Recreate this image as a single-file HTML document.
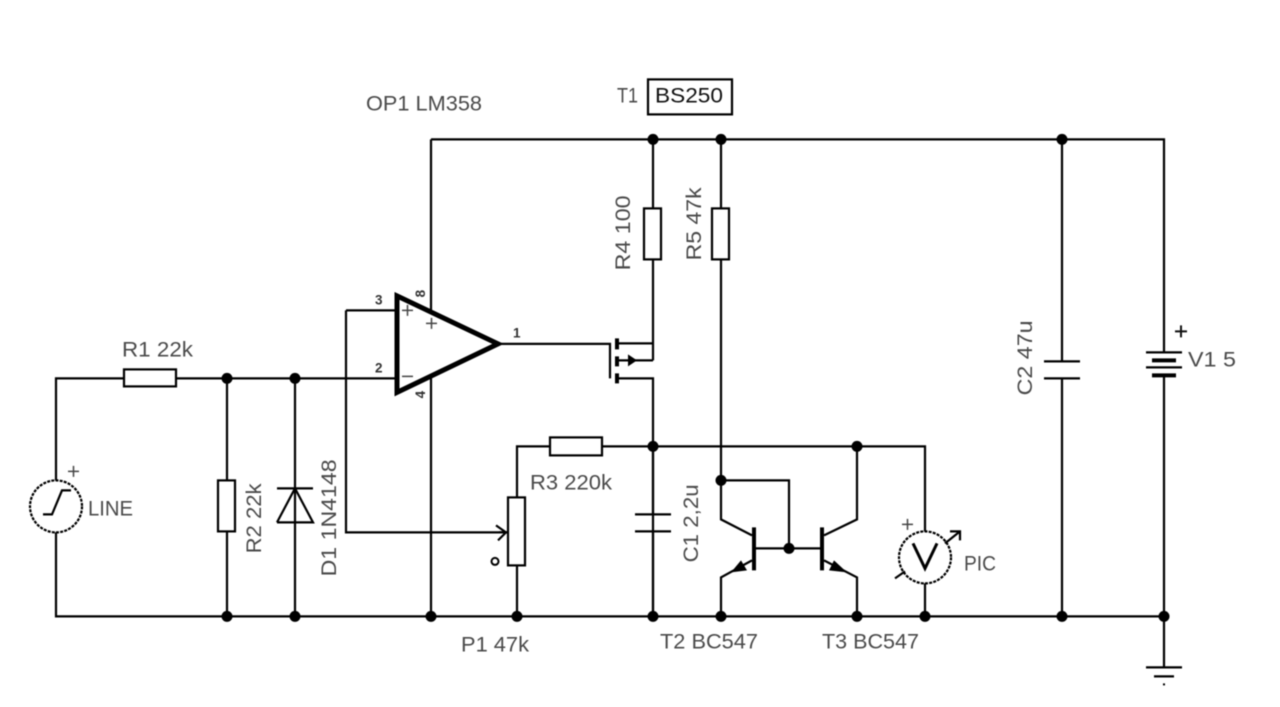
<!DOCTYPE html>
<html><head><meta charset="utf-8"><style>
html,body{margin:0;padding:0;background:#fff;width:1280px;height:707px;overflow:hidden}
svg{display:block;filter:blur(.5px)}
text{font-family:"Liberation Sans",sans-serif;font-size:21.5px;fill:#4a4a4a}
.s{font-size:13.5px;font-weight:bold;fill:#333}
.w{stroke:#000;stroke-width:2.2;fill:none}
</style></head><body>
<svg width="1280" height="707" viewBox="0 0 1280 707">
<rect width="1280" height="707" fill="#fff"/>
<g transform="translate(0 .4)">
<g class="w" stroke-linejoin="miter">
<path d="M431 139H1164V352M1164 375V667M56 480V378H124M176 378H397M56 532V616H1164"/>
<path d="M227 378V480M227 531V616M295 378V616"/>
<path d="M431 139V312M431 376V616M346 310H397M346 310V532H507"/>
<path d="M499 343.500H610V378M617 343H653M617 360H653M617 378H653V616M653 139V208M653 259V360"/>
<path d="M721 139V208M721 259V519L752 535M721 480H789V548M754 548H822M857 446V519L824 535"/>
<path d="M517 497V446H550M602 446H925V531M517 565V616M925 583V616"/>
<path d="M721 616V577L752 560M857 616V577L824 560"/>
<path d="M635 514H671M635 531H671M653 446V514M653 531V616"/>
<path d="M1062 139V361M1062 378V616M1044 361H1080M1044 378H1080"/>
<path d="M1146 352H1182M1146 367H1182M1146 667H1182M1154 676H1174"/>
<path d="M277 488H313M277 522H313L295 488L277 522"/>
<path d="M499 532L507 532M496 525L506 532L498 540"/>
</g>
<g fill="#fff" stroke="#000" stroke-width="2.200">
<rect x="124" y="369" width="52" height="17"/>
<rect x="218" y="480" width="17" height="51"/>
<rect x="644" y="208" width="17" height="51"/>
<rect x="712" y="208" width="17" height="51"/>
<rect x="550" y="437" width="52" height="18"/>
<rect x="508" y="497" width="17" height="68"/>
<rect x="648" y="79" width="84" height="35"/>
</g>
<polygon points="397,295.500 498,343.500 397,392" fill="#fff" stroke="#000" stroke-width="5" stroke-linejoin="miter"/>
<g stroke="#000" fill="none">
<path stroke-width="4" d="M617 338V349M617 356V366M617 373V383M754 527V570M822 527V570M1152 360H1176M1152 375H1176"/>
<circle cx="56" cy="506" r="26" stroke-width="2.200" stroke-dasharray="3 1.200"/>
<circle cx="925" cy="557" r="26" stroke-width="2.200" stroke-dasharray="3 1.200"/>
<path stroke-width="2.200" d="M43 514H52L62 490H71"/>
<path stroke-width="2.200" d="M895 578L905 571M945 543L960 531M950 531H960V540"/>
<path stroke-width="3" d="M913 543L925 568L937 543"/>
<circle cx="495" cy="561" r="3.500" stroke-width="2"/>
</g>
<g fill="#000">
<polygon points="637,360 628,354 628,366"/>
<polygon points="731,572 741,560 747,570"/>
<polygon points="847,572 834,560 829,570"/>
<rect x="1163" y="683" width="2" height="2"/>
<g>
<circle cx="653" cy="139" r="5.500"/><circle cx="721" cy="139" r="5.500"/><circle cx="1062" cy="139" r="5.500"/>
<circle cx="227" cy="378" r="5.500"/><circle cx="295" cy="378" r="5.500"/>
<circle cx="653" cy="446" r="5.500"/><circle cx="857" cy="446" r="5.500"/>
<circle cx="721" cy="480" r="5.500"/><circle cx="789" cy="548" r="5.500"/>
<circle cx="227" cy="616" r="5.500"/><circle cx="295" cy="616" r="5.500"/><circle cx="431" cy="616" r="5.500"/><circle cx="517" cy="616" r="5.500"/><circle cx="653" cy="616" r="5.500"/><circle cx="721" cy="616" r="5.500"/><circle cx="857" cy="616" r="5.500"/><circle cx="925" cy="616" r="5.500"/><circle cx="1062" cy="616" r="5.500"/><circle cx="1164" cy="616" r="5.500"/>
</g>
</g>
<path d="M402 310H413M407.500 304.500V315.500M426 323H437M431.500 317.500V328.500M402 376H413M68 471H79M73.500 465.500V476.500M902 524H913M907.500 518.500V529.500" stroke="#444" stroke-width="1.500"/>
<path d="M1175 331H1187M1181 325V337" stroke="#111" stroke-width="2"/>
<text x="366" y="110" textLength="116" lengthAdjust="spacingAndGlyphs">OP1 LM358</text>
<text x="617" y="102" textLength="21" lengthAdjust="spacingAndGlyphs">T1</text>
<text x="655" y="102" textLength="68" lengthAdjust="spacingAndGlyphs" style="fill:#111">BS250</text>
<text x="122" y="356" textLength="71" lengthAdjust="spacingAndGlyphs">R1 22k</text>
<text x="88" y="515" textLength="45" lengthAdjust="spacingAndGlyphs">LINE</text>
<text x="530" y="489" textLength="82" lengthAdjust="spacingAndGlyphs">R3 220k</text>
<text x="461" y="651" textLength="68" lengthAdjust="spacingAndGlyphs">P1 47k</text>
<text x="660" y="648" textLength="98" lengthAdjust="spacingAndGlyphs">T2 BC547</text>
<text x="822" y="648" textLength="97" lengthAdjust="spacingAndGlyphs">T3 BC547</text>
<text x="964" y="570" textLength="32" lengthAdjust="spacingAndGlyphs">PIC</text>
<text x="1188" y="366" textLength="48" lengthAdjust="spacingAndGlyphs">V1 5</text>
<text transform="translate(630 270) rotate(-90)" textLength="75" lengthAdjust="spacingAndGlyphs">R4 100</text>
<text transform="translate(701 260) rotate(-90)" textLength="73" lengthAdjust="spacingAndGlyphs">R5 47k</text>
<text transform="translate(261 553) rotate(-90)" textLength="70" lengthAdjust="spacingAndGlyphs">R2 22k</text>
<text transform="translate(336 576) rotate(-90)" textLength="117" lengthAdjust="spacingAndGlyphs">D1 1N4148</text>
<text transform="translate(698 562) rotate(-90)" textLength="78" lengthAdjust="spacingAndGlyphs">C1 2,2u</text>
<text transform="translate(1032 395) rotate(-90)" textLength="75" lengthAdjust="spacingAndGlyphs">C2 47u</text>
<text class="s" x="375" y="304">3</text>
<text class="s" x="375" y="372">2</text>
<text class="s" x="513" y="337">1</text>
<text class="s" transform="translate(425 297) rotate(-90)">8</text>
<text class="s" transform="translate(425 398) rotate(-90)">4</text>
</g>
</svg>
</body></html>
